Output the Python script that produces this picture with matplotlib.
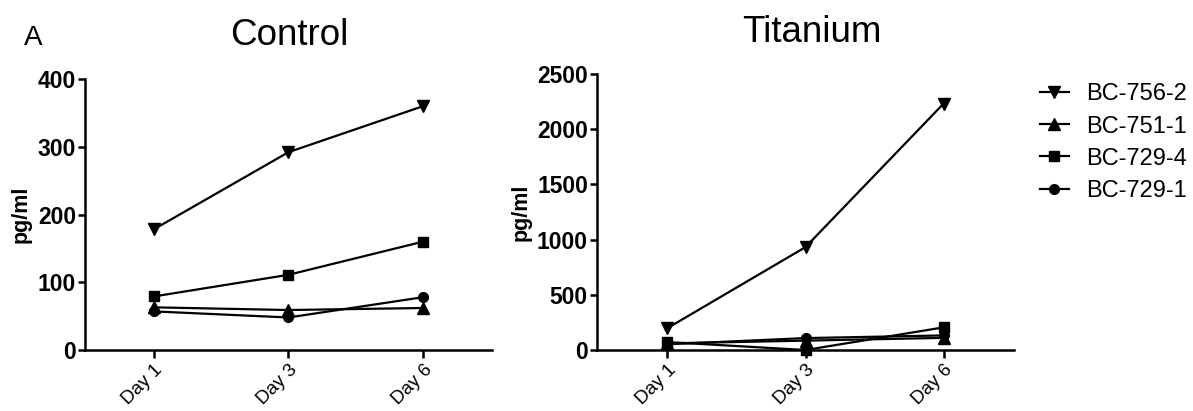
import matplotlib
matplotlib.use("Agg")
import matplotlib.pyplot as plt
from matplotlib.lines import Line2D

plt.rcParams['font.family'] = ['Liberation Sans', 'DejaVu Sans']

days = ['Day 1', 'Day 3', 'Day 6']
samples = ['BC-756-2', 'BC-751-1', 'BC-729-4', 'BC-729-1']
sample_markers = ['v', '^', 's', 'o']

# pg/ml per sample, ordered like `samples`
control_756_2 = [178, 292, 360]
control_751_1 = [63, 59, 62]
control_729_4 = [79, 111, 160]
control_729_1 = [57, 48, 78]

titanium_756_2 = [198, 932, 2232]
titanium_751_1 = [60, 85, 110]
titanium_729_4 = [72, 0, 205]
titanium_729_1 = [52, 108, 132]

control_ticks = [0, 100, 200, 300, 400]
titanium_ticks = [0, 500, 1000, 1500, 2000, 2500]


def plot_panel(ax, series, title, yticks, title_x, title_y):
    """Draw one group of samples as marker lines over the three days."""
    x = range(len(days))
    for values, marker in zip(series, sample_markers):
        ax.plot(x, values, color='black', linewidth=1.6, marker=marker,
                markersize=8 if marker in 'v^' else 7, clip_on=False, zorder=3)

    ax.set_xlim(-0.51, 2.51)
    ax.set_ylim(yticks[0], yticks[-1])
    ax.set_xticks(list(x))
    ax.set_xticklabels(days, rotation=45, ha='right', rotation_mode='anchor', fontsize=13.5)
    ax.set_yticks(yticks)
    ax.set_yticklabels([str(t) for t in yticks], fontsize=16.5, fontweight='bold')
    ax.set_ylabel('pg/ml', fontsize=15.5, fontweight='bold', labelpad=4)

    for side in ['top', 'right']:
        ax.spines[side].set_visible(False)
    for side in ['left', 'bottom']:
        ax.spines[side].set_linewidth(1.8)
    ax.tick_params(axis='both', direction='out', width=1.8, length=5, pad=1.5)
    ax.tick_params(axis='x', length=6, pad=2)

    ax.figure.text(title_x, title_y, title, fontsize=26.5, ha='center', va='baseline')


fig = plt.figure(figsize=(11.93, 4.11), dpi=100)
ax_control = fig.add_axes([0.0712, 0.1484, 0.3412, 0.6594])
ax_titanium = fig.add_axes([0.5004, 0.1484, 0.3496, 0.6716])

plot_panel(ax_control, [control_756_2, control_751_1, control_729_4, control_729_1],
           'Control', control_ticks, 0.2422, 0.8905)
plot_panel(ax_titanium, [titanium_756_2, titanium_751_1, titanium_729_4, titanium_729_1],
           'Titanium', titanium_ticks, 0.6806, 0.898)

fig.text(0.020, 0.8905, 'A', fontsize=20, ha='left', va='baseline')

handles = [Line2D([], [], color='black', linewidth=1.6, marker=m,
                  markersize=8 if m in 'v^' else 7) for m in sample_markers]
fig.legend(handles, samples, loc='upper left', bbox_to_anchor=(0.872, 0.797),
           frameon=False, fontsize=17, handlelength=1.2, handletextpad=0.75,
           labelspacing=0.43, borderpad=0, borderaxespad=0)

fig.savefig('out.png', dpi=100)
plt.close(fig)
